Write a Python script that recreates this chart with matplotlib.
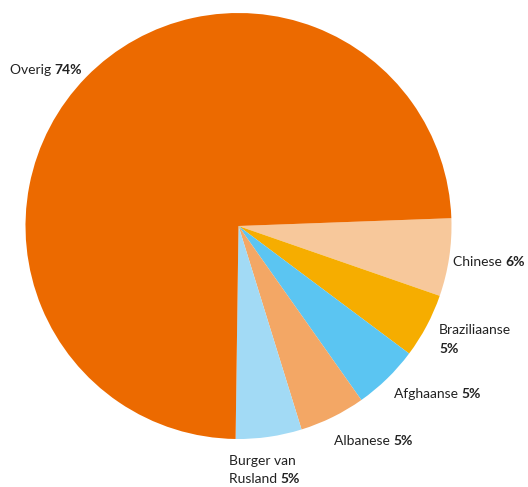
import matplotlib
matplotlib.use("Agg")
import matplotlib.pyplot as plt

labels = ["Chinese", "Braziliaanse", "Afghaanse", "Albanese", "Burger van Rusland", "Overig"]
values = [5.9, 4.9, 5.0, 5.0, 5.0, 74.2]
pct_labels = ["6%", "5%", "5%", "5%", "5%", "74%"]
colors = ["#F7C89B", "#F6AD00", "#5BC5F2", "#F3A765", "#A2DAF5", "#EC6A00"]

W, H = 528, 487
fig = plt.figure(figsize=(W / 100, H / 100), dpi=100)
ax = fig.add_axes([0, 0, 1, 1])
ax.pie(values, colors=colors, startangle=2.1, counterclock=False,
       center=(238.5, H - 226), radius=213,
       wedgeprops=dict(linewidth=0))
ax.set_xlim(0, W)
ax.set_ylim(0, H)
ax.set_aspect('equal')
ax.axis('off')

FONT = 'Lato'
FS = 10
TC = '#222222'

def label(x, y, normal, bold):
    t = None
    if normal:
        t = ax.text(x, H - y, normal + " ", fontsize=FS, family=FONT, color=TC,
                    ha='left', va='center')
        ax.annotate(bold, xy=(1, 0.5), xycoords=t, fontsize=FS, family=FONT,
                    fontweight='bold', color=TC, ha='left', va='center')
    else:
        ax.text(x, H - y, bold, fontsize=FS, family=FONT, fontweight='bold',
                color=TC, ha='left', va='center')

label(10, 70, labels[5], pct_labels[5])
label(453, 262, labels[0], pct_labels[0])
ax.text(439, H - 330, labels[1], fontsize=FS, family=FONT, color=TC, ha='left', va='center')
label(439, 349, None, pct_labels[1])
label(394, 394, labels[2], pct_labels[2])
label(334, 441, labels[3], pct_labels[3])
ax.text(229, H - 461, "Burger van", fontsize=FS, family=FONT, color=TC, ha='left', va='center')
label(229, 479, "Rusland", pct_labels[4])

fig.savefig("out.png", dpi=100)
